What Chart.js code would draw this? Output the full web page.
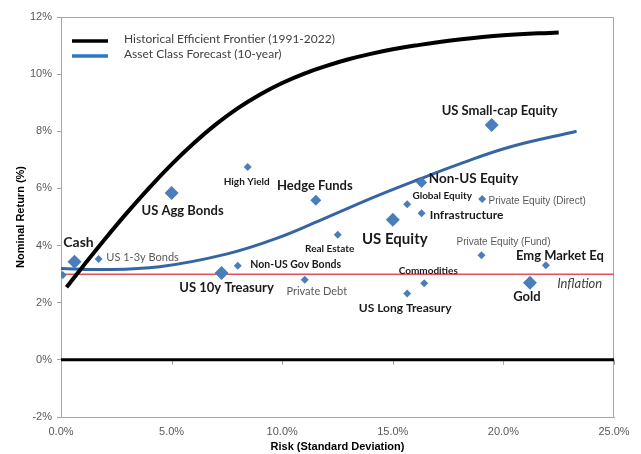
<!DOCTYPE html>
<html>
<head>
<meta charset="utf-8">
<script src="https://cdn.jsdelivr.net/npm/chart.js@4.4.1/dist/chart.umd.min.js"></script>
<style>
  html, body { margin: 0; padding: 0; background: #fff; }
  #wrap { width: 641px; height: 454px; }
</style>
</head>
<body>
<div id="wrap"><canvas id="riskChart"></canvas></div>
<script>
// asset classes: risk (std dev, %) and expected nominal return (%)
const assetNames = [
  'Cash', 'US 1-3y Bonds', 'US Agg Bonds', 'High Yield', 'Hedge Funds',
  'US 10y Treasury', 'Non-US Gov Bonds', 'Private Debt', 'Real Estate', 'US Equity',
  'Global Equity', 'Non-US Equity', 'Private Equity (Direct)', 'Infrastructure', 'US Small-cap Equity',
  'Private Equity (Fund)', 'Emg Market Eq', 'Gold', 'Commodities', 'US Long Treasury', ''
];
const assetRisk = [
  0.61, 1.70, 5.00, 8.44, 11.52,
  7.26, 7.99, 11.02, 12.51, 15.00,
  15.65, 16.30, 19.04, 16.30, 19.47,
  19.01, 21.92, 21.20, 16.42, 15.65, 0.08
];
const assetReturn = [
  3.43, 3.53, 5.84, 6.75, 5.59,
  3.04, 3.29, 2.80, 4.38, 4.90,
  5.45, 6.21, 5.63, 5.13, 8.22,
  3.66, 3.31, 2.70, 2.68, 2.32, 2.97
];

// historical efficient frontier 1991-2022
const frontierRisk = [0.25, 1, 2, 3, 4, 5, 6, 7, 8, 9, 10, 11, 12, 13, 14, 15, 16, 18, 20, 22.5];
const frontierReturn = [2.54, 3.28, 4.24, 5.16, 6.03, 6.84, 7.58, 8.24, 8.81, 9.29, 9.69, 10.02, 10.29, 10.52, 10.71, 10.87, 11.0, 11.21, 11.36, 11.46];

// 10-year asset class forecast curve
const forecastRisk = [0, 1.7, 4.46, 7.47, 9.74, 12.0, 14.26, 16.22, 18.03, 20.29, 23.31];
const forecastReturn = [3.2, 3.16, 3.26, 3.7, 4.25, 4.98, 5.73, 6.33, 6.86, 7.45, 8.0];

const inflationRate = 3.0;
const xTicks = [0, 5, 10, 15, 20, 25];
const yTicks = [-2, 0, 2, 4, 6, 8, 10, 12];

const FONT = 'Lato, "Liberation Sans", sans-serif';
const AXIS_FONT = '"Liberation Sans", Arial, sans-serif';

// marker size and label placement per asset (offsets in px from the marker)
const big = 7, mid = 5.5, small = 4;
const labelStyle = {
  'Cash':                   { r: big,   dx: 4,   dy: -19, size: 14,   bold: true },
  'US 1-3y Bonds':          { r: small, dx: 44,  dy: -2,  size: 11,   color: '#595959' },
  'US Agg Bonds':           { r: big,   dx: 11,  dy: 18,  size: 13,   bold: true },
  'High Yield':             { r: small, dx: -1,  dy: 15,  size: 10,   bold: true },
  'Hedge Funds':            { r: mid,   dx: -1,  dy: -14, size: 13,   bold: true },
  'US 10y Treasury':        { r: big,   dx: 5,   dy: 15,  size: 13,   bold: true },
  'Non-US Gov Bonds':       { r: small, dx: 58,  dy: -1,  size: 10.5, bold: true },
  'Private Debt':           { r: small, dx: 12,  dy: 12,  size: 11,   color: '#595959' },
  'Real Estate':            { r: small, dx: -8,  dy: 14,  size: 10,   bold: true },
  'US Equity':              { r: big,   dx: 2,   dy: 19,  size: 15,   bold: true },
  'Global Equity':          { r: small, dx: 35,  dy: -8,  size: 10,   bold: true },
  'Non-US Equity':          { r: mid,   dx: 52,  dy: -4,  size: 13.5, bold: true },
  'Private Equity (Direct)':{ r: small, dx: 55,  dy: 2,   size: 10,   color: '#595959', family: AXIS_FONT },
  'Infrastructure':         { r: small, dx: 45,  dy: 2,   size: 12,   bold: true },
  'US Small-cap Equity':    { r: big,   dx: 8,   dy: -14, size: 13,   bold: true },
  'Private Equity (Fund)':  { r: small, dx: 22,  dy: -13, size: 10,   color: '#595959', family: AXIS_FONT },
  'Emg Market Eq':          { r: small, dx: 14,  dy: -9,  size: 13,   bold: true },
  'Gold':                   { r: big,   dx: -3,  dy: 14,  size: 13,   bold: true },
  'Commodities':            { r: small, dx: 4,   dy: -13, size: 10,   bold: true },
  'US Long Treasury':       { r: small, dx: -2,  dy: 15,  size: 12,   bold: true },
  '':                       { r: small }
};

const toPoints = (xs, ys) => xs.map((x, i) => ({ x: x, y: ys[i] }));

// frame around the plot, small ticks on the zero line, in-chart legend
const framePlugin = {
  id: 'frame',
  beforeDatasetsDraw(chart) {
    const { ctx, chartArea: a, scales } = chart;
    ctx.save();
    ctx.strokeStyle = '#a6a6a6';
    ctx.lineWidth = 1;
    ctx.strokeRect(a.left + 0.5, a.top + 0.5, a.right - a.left - 1, a.bottom - a.top);
    const y0 = scales.y.getPixelForValue(0);
    xTicks.forEach(v => {
      const px = Math.round(scales.x.getPixelForValue(v)) + 0.5;
      ctx.beginPath();
      ctx.moveTo(px, y0);
      ctx.lineTo(px, y0 + 5);
      ctx.stroke();
    });
    ctx.restore();
  },
  afterDraw(chart) {
    const { ctx } = chart;
    const entries = chart.data.datasets.filter(d => d.legendColor);
    ctx.save();
    ctx.font = '12px ' + FONT;
    ctx.textBaseline = 'middle';
    entries.forEach((d, i) => {
      const y = 41 + i * 15;
      ctx.strokeStyle = d.legendColor;
      ctx.lineWidth = 3.5;
      ctx.beginPath();
      ctx.moveTo(72, y);
      ctx.lineTo(108, y);
      ctx.stroke();
      ctx.fillStyle = '#404040';
      ctx.fillText(d.label, 124, y - 1.5);
    });
    ctx.restore();
  }
};

// asset names next to their markers, plus the inflation tag
const labelPlugin = {
  id: 'assetLabels',
  afterDatasetsDraw(chart) {
    const { ctx, scales } = chart;
    const meta = chart.getDatasetMeta(0);
    ctx.save();
    ctx.textAlign = 'center';
    ctx.textBaseline = 'middle';
    assetNames.forEach((name, i) => {
      if (!name) return;
      const s = labelStyle[name];
      const pt = meta.data[i];
      ctx.font = (s.bold ? 'bold ' : '') + s.size + 'px ' + (s.family || FONT);
      ctx.fillStyle = s.color || '#1a1a1a';
      ctx.fillText(name, pt.x + s.dx, pt.y + s.dy);
    });
    ctx.font = 'italic 13px ' + FONT;
    ctx.fillStyle = '#404040';
    ctx.fillText('Inflation', scales.x.getPixelForValue(23.45), scales.y.getPixelForValue(inflationRate) + 10);
    ctx.restore();
  }
};

new Chart(document.getElementById('riskChart'), {
  type: 'scatter',
  data: {
    datasets: [
      {
        label: 'Assets',
        data: toPoints(assetRisk, assetReturn),
        pointStyle: 'rectRot',
        pointRadius: assetNames.map(n => labelStyle[n].r),
        backgroundColor: '#4a7ebb',
        borderColor: '#4a7ebb',
        borderWidth: 0,
        order: 0
      },
      {
        type: 'line',
        label: 'Historical Efficient Frontier (1991-2022)',
        legendColor: '#000000',
        data: toPoints(frontierRisk, frontierReturn),
        borderColor: '#000000',
        borderWidth: 4,
        pointRadius: 0,
        tension: 0.4,
        fill: false,
        order: 1
      },
      {
        type: 'line',
        label: 'Asset Class Forecast (10-year)',
        legendColor: '#2e75c6',
        data: toPoints(forecastRisk, forecastReturn),
        borderColor: '#3566a3',
        borderWidth: 3,
        pointRadius: 0,
        tension: 0.4,
        fill: false,
        order: 2
      },
      {
        type: 'line',
        label: 'Inflation',
        data: [{ x: 0, y: inflationRate }, { x: 25, y: inflationRate }],
        borderColor: '#e4505a',
        borderWidth: 1.5,
        pointRadius: 0,
        fill: false,
        order: 3
      },
      {
        type: 'line',
        label: 'Zero',
        data: [{ x: 0, y: 0 }, { x: 25, y: 0 }],
        borderColor: '#000000',
        borderWidth: 3,
        pointRadius: 0,
        fill: false,
        order: 4
      }
    ]
  },
  options: {
    responsive: true,
    maintainAspectRatio: false,
    animation: false,
    layout: { padding: { top: 17, right: 27, left: 0, bottom: 0 } },
    plugins: {
      legend: { display: false },
      tooltip: { enabled: false }
    },
    scales: {
      x: {
        type: 'linear',
        min: 0,
        max: 25,
        afterBuildTicks: s => { s.ticks = xTicks.map(v => ({ value: v })); },
        afterFit: s => { s.height = 37; },
        ticks: {
          padding: 8,
          color: '#595959',
          font: { family: AXIS_FONT, size: 11 },
          callback: v => v.toFixed(1) + '%'
        },
        grid: { drawOnChartArea: false, drawTicks: false },
        border: { color: '#a6a6a6' },
        title: {
          display: true,
          text: 'Risk (Standard Deviation)',
          color: '#000',
          font: { family: AXIS_FONT, size: 11, weight: 'bold' },
          padding: 0
        }
      },
      y: {
        min: -2,
        max: 12,
        afterBuildTicks: s => { s.ticks = yTicks.map(v => ({ value: v })); },
        afterFit: s => { s.width = 61; },
        ticks: {
          padding: 5,
          color: '#595959',
          font: { family: AXIS_FONT, size: 11 },
          callback: v => v + '%'
        },
        grid: { drawOnChartArea: false, tickLength: 4, color: '#a6a6a6' },
        border: { color: '#a6a6a6' },
        title: {
          display: true,
          text: 'Nominal Return (%)',
          color: '#000',
          font: { family: AXIS_FONT, size: 11, weight: 'bold' },
          padding: { top: 14, bottom: 0 }
        }
      }
    }
  },
  plugins: [framePlugin, labelPlugin]
});
</script>
</body>
</html>
